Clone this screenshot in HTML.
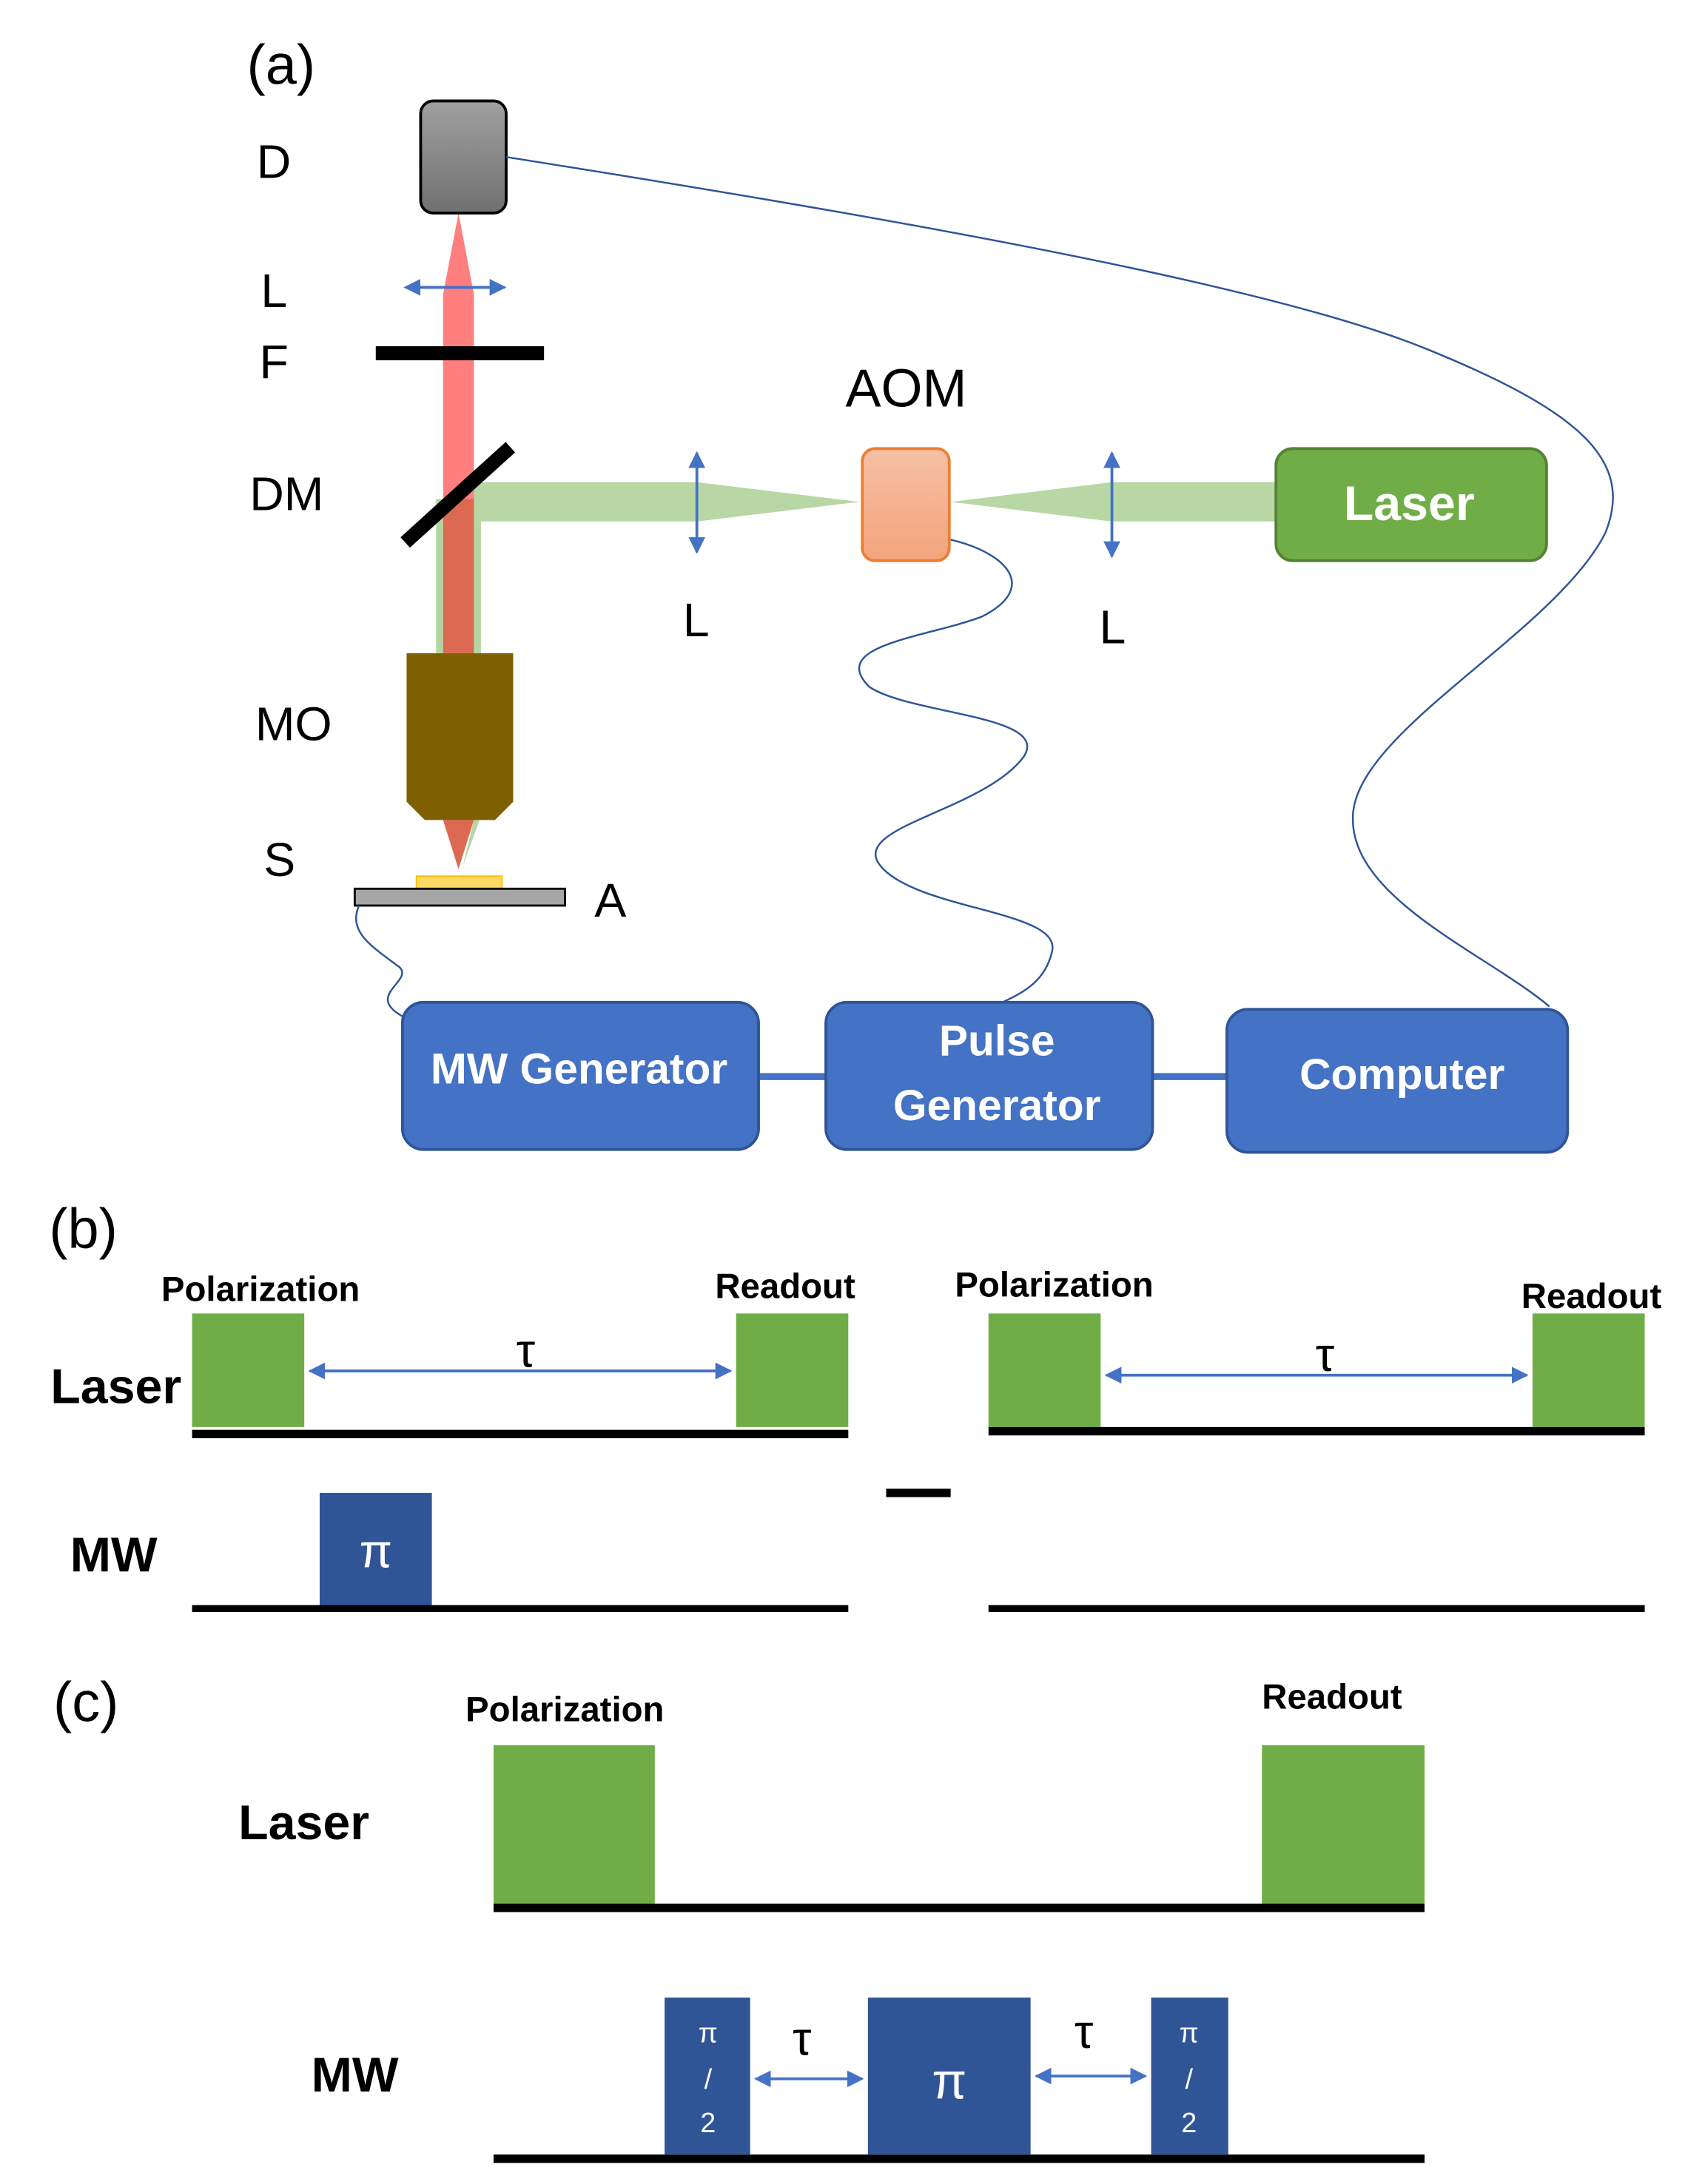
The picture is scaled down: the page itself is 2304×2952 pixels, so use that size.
<!DOCTYPE html>
<html><head><meta charset="utf-8"><style>
html,body{margin:0;padding:0;background:#fff}
svg{display:block}
text{font-family:"Liberation Sans",sans-serif}
</style></head><body>
<svg width="2304" height="2952" viewBox="0 0 1216 1558" xmlns="http://www.w3.org/2000/svg">
<defs>
<linearGradient id="gD" x1="0" y1="0" x2="0" y2="1"><stop offset="0" stop-color="#a0a0a0"/><stop offset="1" stop-color="#707070"/></linearGradient>
<linearGradient id="gA" x1="0" y1="0" x2="0" y2="1"><stop offset="0" stop-color="#f5c0a4"/><stop offset="1" stop-color="#f4a47c"/></linearGradient>
<marker id="ah" viewBox="0 0 10 10" refX="9" refY="5" markerWidth="6" markerHeight="6" orient="auto-start-reverse"><path d="M0,0L10,5L0,10z" fill="#4472c4"/></marker>
</defs>
<!-- (a) -->
<text x="176" y="60" font-size="40">(a)</text>
<g font-size="34">
<text x="183" y="127">D</text><text x="186" y="219">L</text><text x="185" y="270">F</text>
<text x="178" y="364">DM</text><text x="182" y="528">MO</text><text x="188" y="625">S</text>
<text x="424" y="654">A</text><text x="603" y="290" font-size="38">AOM</text>
<text x="487" y="454">L</text><text x="784" y="459">L</text>
</g>
<!-- beams -->
<path d="M316,210 L327,152 L338,210 L338,466 L316,466Z" fill="#ff7f7f"/>
<rect x="311" y="356" width="32" height="110" fill="#b5d6a0"/>
<rect x="316" y="356" width="22" height="110" fill="#dc6a52"/>
<path d="M338,344 L497,344 L613,358 L497,372 L338,372Z" fill="#b8d7a5"/>
<path d="M678,358 L793,344 L910,344 L910,372 L793,372Z" fill="#b8d7a5"/>
<path d="M316,585 L338,585 L327,620Z" fill="#dc6a52"/>
<path d="M338,585 L342,585 L330,618Z" fill="#b5d6a0"/>
<!-- D -->
<rect x="300" y="72" width="61" height="80" rx="9" fill="url(#gD)" stroke="#000" stroke-width="2"/>
<!-- lenses -->
<line x1="289" y1="205" x2="360" y2="205" stroke="#4472c4" stroke-width="2" marker-start="url(#ah)" marker-end="url(#ah)"/>
<line x1="497" y1="323" x2="497" y2="394" stroke="#4472c4" stroke-width="2" marker-start="url(#ah)" marker-end="url(#ah)"/>
<line x1="793" y1="323" x2="793" y2="397" stroke="#4472c4" stroke-width="2" marker-start="url(#ah)" marker-end="url(#ah)"/>
<rect x="268" y="247" width="120" height="10" fill="#000"/>
<line x1="289" y1="387" x2="364" y2="319" stroke="#000" stroke-width="10"/>
<!-- AOM -->
<rect x="615" y="320" width="62" height="80" rx="9" fill="url(#gA)" stroke="#ed7d31" stroke-width="2"/>
<rect x="910" y="320" width="193" height="80" rx="12" fill="#70ad47" stroke="#548235" stroke-width="2"/>
<text x="1005" y="371" font-size="35" font-weight="bold" fill="#fff" text-anchor="middle">Laser</text>
<!-- MO -->
<path d="M290,466 L366,466 L366,572 L353,585 L303,585 L290,572Z" fill="#7f6000"/>
<rect x="297" y="625" width="61" height="9" fill="#ffd966" stroke="#ffc000" stroke-width="1"/>
<rect x="253" y="634" width="150" height="12" fill="#a6a6a6" stroke="#000" stroke-width="1.5"/>
<!-- cables -->
<g fill="none" stroke="#2f5597" stroke-width="1.3">
<path d="M361,112 C600,150 900,200 1020,250 C1130,295 1165,330 1145,380 C1110,450 970,520 965,580 C960,640 1060,680 1105,718"/>
<path d="M678,385 C720,395 740,420 700,440 C660,455 590,460 620,490 C650,510 750,510 730,540 C700,580 600,590 630,620 C660,650 760,650 750,680 C745,700 730,708 715,715"/>
<path d="M256,646 C248,665 265,675 285,690 C295,700 260,710 287,725"/>
</g>
<!-- boxes -->
<line x1="541" y1="768" x2="589" y2="768" stroke="#4472c4" stroke-width="5"/>
<line x1="822" y1="768" x2="875" y2="768" stroke="#4472c4" stroke-width="5"/>
<g fill="#4472c4" stroke="#2f5597" stroke-width="2">
<rect x="287" y="715" width="254" height="105" rx="15"/>
<rect x="589" y="715" width="233" height="105" rx="15"/>
<rect x="875" y="720" width="243" height="102" rx="15"/>
</g>
<g font-size="31" font-weight="bold" fill="#fff" text-anchor="middle">
<text x="413" y="773">MW Generator</text>
<text x="711" y="753">Pulse</text><text x="711" y="799">Generator</text>
<text x="1000" y="777">Computer</text>
</g>
<!-- (b) -->
<text x="35" y="890" font-size="40">(b)</text>
<g font-size="25" font-weight="bold">
<text x="115" y="928">Polarization</text><text x="510" y="926">Readout</text>
<text x="681" y="925">Polarization</text><text x="1085" y="933">Readout</text>
</g>
<text x="36" y="1001" font-size="35" font-weight="bold">Laser</text>
<text x="50" y="1121" font-size="35" font-weight="bold">MW</text>
<g fill="#70ad47">
<rect x="137" y="937" width="80" height="81"/><rect x="525" y="937" width="80" height="81"/>
<rect x="705" y="937" width="80" height="81"/><rect x="1093" y="937" width="80" height="81"/>
</g>
<g fill="#000">
<rect x="137" y="1020" width="468" height="6"/><rect x="705" y="1018" width="468" height="6"/>
<rect x="137" y="1145" width="468" height="5"/><rect x="705" y="1145" width="468" height="5"/>
<rect x="632" y="1062" width="46" height="6"/>
<rect x="352" y="1358" width="664" height="6"/><rect x="352" y="1537" width="664" height="6"/>
</g>
<line x1="221" y1="978" x2="521" y2="978" stroke="#4472c4" stroke-width="2" marker-start="url(#ah)" marker-end="url(#ah)"/>
<line x1="789" y1="981" x2="1089" y2="981" stroke="#4472c4" stroke-width="2" marker-start="url(#ah)" marker-end="url(#ah)"/>
<text x="375" y="975" font-size="34" text-anchor="middle">τ</text>
<text x="945" y="978" font-size="34" text-anchor="middle">τ</text>
<rect x="228" y="1065" width="80" height="80" fill="#2f5597"/>
<text x="268" y="1118" font-size="34" fill="#fff" text-anchor="middle">π</text>
<!-- (c) -->
<text x="38" y="1228" font-size="40">(c)</text>
<g font-size="25" font-weight="bold">
<text x="332" y="1228">Polarization</text><text x="900" y="1219">Readout</text>
</g>
<text x="170" y="1312" font-size="35" font-weight="bold">Laser</text>
<text x="222" y="1492" font-size="35" font-weight="bold">MW</text>
<g fill="#70ad47"><rect x="352" y="1245" width="115" height="113"/><rect x="900" y="1245" width="116" height="113"/></g>
<g fill="#2f5597"><rect x="474" y="1425" width="61" height="112"/><rect x="619" y="1425" width="116" height="112"/><rect x="821" y="1425" width="55" height="112"/></g>
<g fill="#fff" text-anchor="middle" font-size="20">
<text x="505" y="1457">π</text><text x="505" y="1490">/</text><text x="505" y="1521">2</text>
<text x="848" y="1457">π</text><text x="848" y="1490">/</text><text x="848" y="1521">2</text>
<text x="677" y="1497" font-size="36">π</text>
</g>
<line x1="539" y1="1483" x2="615" y2="1483" stroke="#4472c4" stroke-width="2" marker-start="url(#ah)" marker-end="url(#ah)"/>
<line x1="739" y1="1481" x2="817" y2="1481" stroke="#4472c4" stroke-width="2" marker-start="url(#ah)" marker-end="url(#ah)"/>
<text x="572" y="1466" font-size="34" text-anchor="middle">τ</text>
<text x="773" y="1461" font-size="34" text-anchor="middle">τ</text>
</svg>
</body></html>
